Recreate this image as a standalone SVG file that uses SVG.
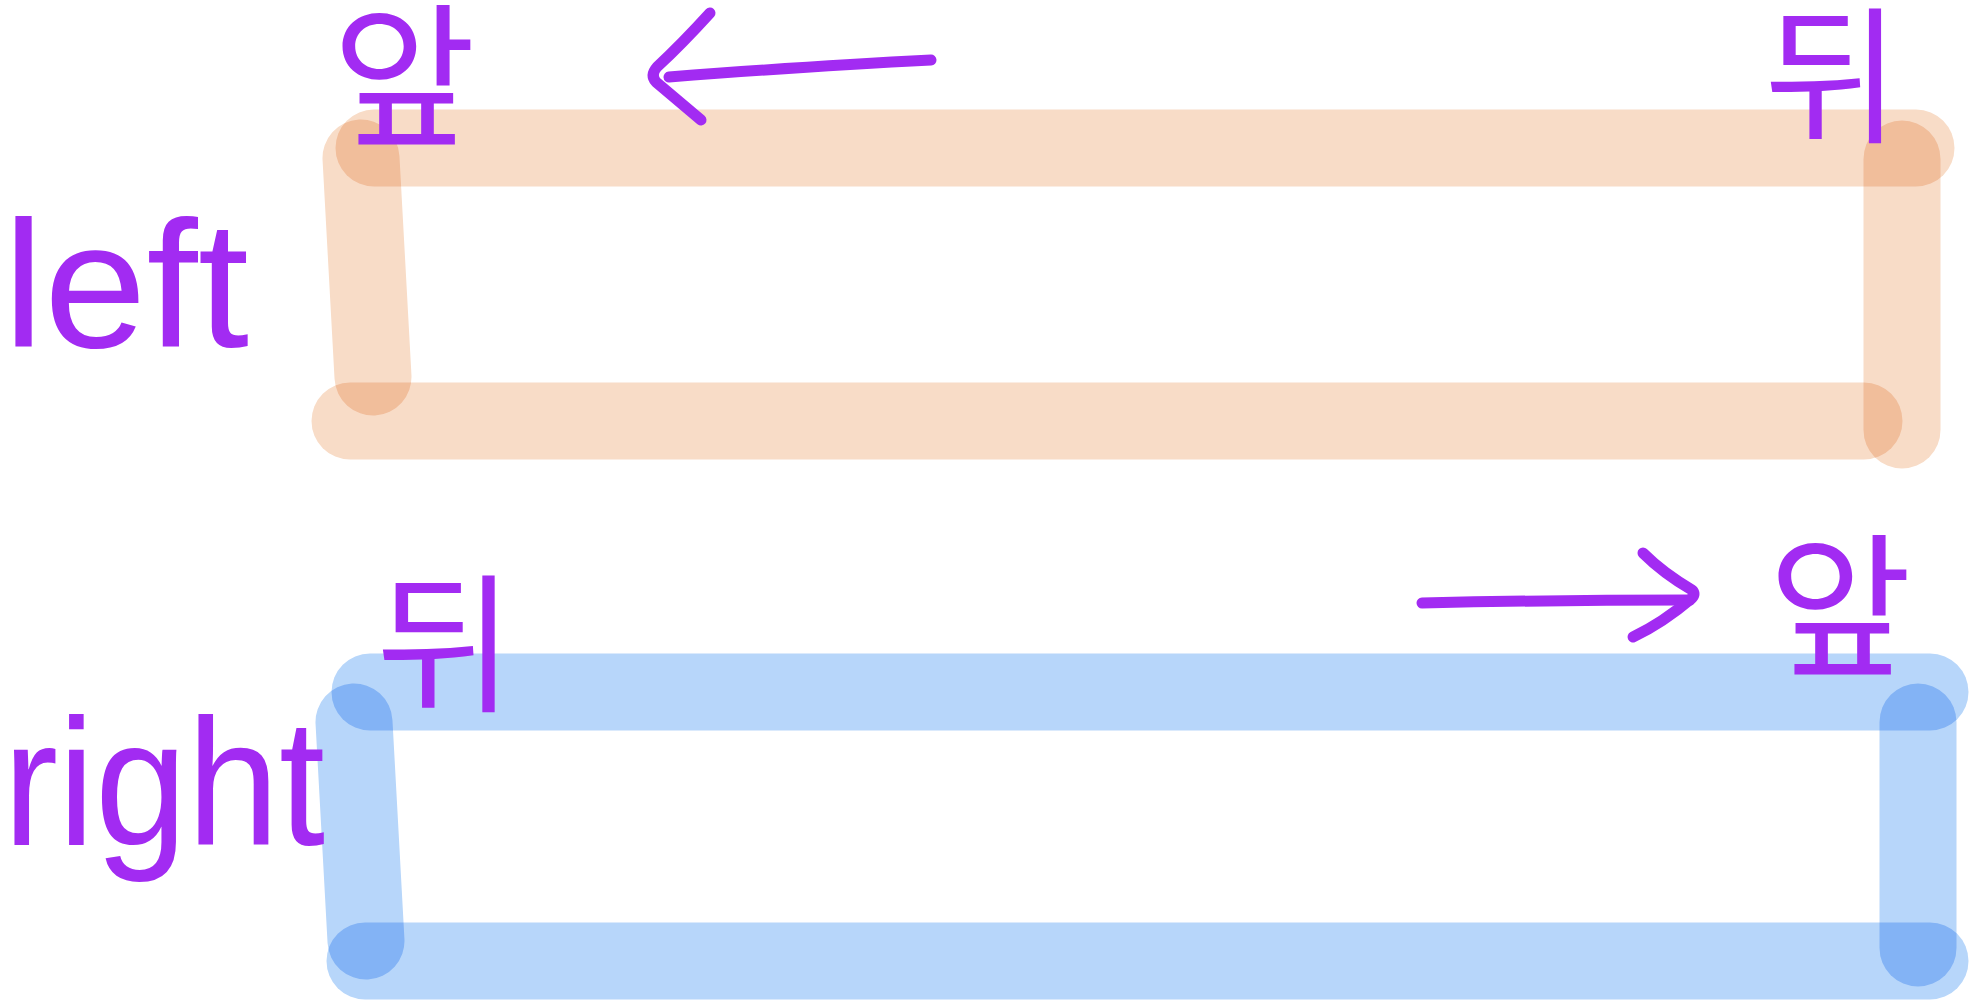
<svg xmlns="http://www.w3.org/2000/svg" width="1972" height="1000" viewBox="0 0 1972 1000">
<style>
.bar-o{stroke:#f8dcc7;stroke-width:77;stroke-linecap:round;fill:none;mix-blend-mode:multiply}
.bar-b{stroke:#b7d6fa;stroke-width:77;stroke-linecap:round;fill:none;mix-blend-mode:multiply}
.ink{stroke:#a22bf2;stroke-width:11;stroke-linecap:round;stroke-linejoin:round;fill:none}
.word{fill:#a22bf2;font-family:"Liberation Sans",Arial,sans-serif;font-size:180px}
.ko{fill:#a22bf2;font-family:"Noto Sans CJK KR","Noto Sans",sans-serif;text-anchor:middle}
</style>
<rect width="1972" height="1000" fill="#ffffff"/>
<g id="node-left-rect">
<line class="bar-o" x1="374" y1="148" x2="1916" y2="148"/>
<line class="bar-o" x1="361" y1="158" x2="373" y2="377"/>
<line class="bar-o" x1="350" y1="421" x2="1864" y2="421"/>
<line class="bar-o" x1="1902" y1="159" x2="1902" y2="430"/>
</g>
<g id="node-right-rect">
<line class="bar-b" x1="370" y1="692" x2="1930" y2="692"/>
<line class="bar-b" x1="354" y1="722" x2="366" y2="941"/>
<line class="bar-b" x1="365" y1="961" x2="1930" y2="961"/>
<line class="bar-b" x1="1918" y1="722" x2="1918" y2="948"/>
</g>
<g id="label-left"><text class="word" x="3" y="347" textLength="246" lengthAdjust="spacingAndGlyphs">left</text></g>
<g id="label-right"><text class="word" x="3" y="845" textLength="322" lengthAdjust="spacingAndGlyphs">right</text></g>
<g id="label-left-front"><text class="ko" x="404" y="134" font-size="156">앞</text></g>
<g id="label-left-back"><text class="ko" x="1832" y="131" font-size="148">뒤</text></g>
<g id="label-right-back"><text class="ko" x="445" y="700" font-size="150">뒤</text></g>
<g id="label-right-front"><text class="ko" x="1840" y="664" font-size="156">앞</text></g>
<g id="connectors">
<path class="ink" d="M931,60 C850,64 760,70 669,77"/>
<path class="ink" d="M710,13 C690,35 670,55 657,67 Q650,75 656,82 L701,120"/>
<path class="ink" d="M1422,603 C1510,601 1600,600 1690,600"/>
<path class="ink" d="M1643,553 C1660,570 1675,580 1692,590 Q1696,594 1692,598 C1672,615 1652,628 1633,637"/>
</g>
</svg>
